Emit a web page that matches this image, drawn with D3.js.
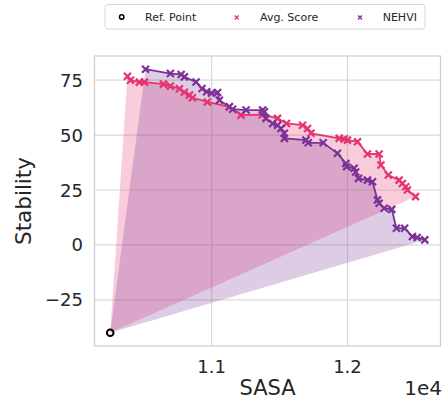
<!DOCTYPE html>
<html>
<head>
<meta charset="utf-8">
<script src="https://cdn.jsdelivr.net/npm/d3@7"></script>
<style>
  body { margin: 0; background: #fff; }
  text { font-family: "DejaVu Sans", sans-serif; fill: #262626; }
</style>
</head>
<body>
<div id="chart"></div>
<script>
// reference point
const refPoint = [10253, -40];

// Avg. Score front (SASA, Stability)
const avgSasa = [10380, 10402, 10468, 10505, 10645, 10696, 10763, 10799, 10836, 10858,
                 10968, 11130, 11216, 11373, 11485, 11551, 11669, 11706, 11731, 11939,
                 11976, 12000, 12074, 12147, 12233, 12246, 12301, 12380, 12404, 12429,
                 12441, 12501];
const avgStab = [76.8, 75.0, 74.1, 74.1, 73.2, 72.3, 71.1, 69.5, 68.2, 67.0,
                 65.1, 62.9, 59.1, 59.3, 57.6, 55.3, 54.5, 53.0, 50.8, 48.5,
                 48.2, 47.7, 47.0, 41.4, 41.4, 36.4, 31.8, 29.5, 28.0, 26.5,
                 25.0, 22.0];

// NEHVI front
const nehviSasa = [10513, 10696, 10775, 10799, 10885, 10929, 10963, 10998, 11044, 11057,
                   11130, 11154, 11253, 11375, 11388, 11400, 11449, 11485, 11510, 11535,
                   11535, 11694, 11711, 11821, 11926, 11988, 11994, 12049, 12060, 12081,
                   12147, 12184, 12221, 12233, 12270, 12326, 12360, 12421, 12478, 12513,
                   12569];
const nehviStab = [80.0, 78.0, 77.6, 76.5, 74.2, 71.2, 69.7, 69.1, 69.4, 65.9,
                   62.9, 61.8, 61.4, 61.4, 60.6, 57.6, 55.3, 54.5, 53.0, 50.8,
                   48.5, 47.7, 46.5, 46.5, 41.7, 37.1, 35.6, 34.9, 33.2, 30.3,
                   29.5, 28.8, 20.5, 19.0, 16.7, 16.2, 7.6, 7.6, 3.8, 3.4,
                   2.3];

const xTicks = [11000, 12000];
const xTickLabels = ["1.1", "1.2"];
const yTicks = [-25, 0, 25, 50, 75];

const width = 443;
const height = 400;
const margin = { top: 56, right: 2.5, bottom: 54, left: 94.5 };

const pink = "#e6336f";
const purple = "#7b3294";

const series = [
  { name: "Avg. Score", color: pink, pts: avgSasa.map((x, i) => [x, avgStab[i]]) },
  { name: "NEHVI", color: purple, pts: nehviSasa.map((x, i) => [x, nehviStab[i]]) }
];

// domains with 5% padding like matplotlib
const allX = [refPoint[0], ...avgSasa, ...nehviSasa];
const allY = [refPoint[1], ...avgStab, ...nehviStab];
function padded(ext) {
  const p = (ext[1] - ext[0]) * 0.05;
  return [ext[0] - p, ext[1] + p];
}

const x = d3.scaleLinear()
  .domain(padded(d3.extent(allX)))
  .range([margin.left, width - margin.right]);
const y = d3.scaleLinear()
  .domain(padded(d3.extent(allY)))
  .range([height - margin.bottom, margin.top]);

const svg = d3.select("#chart")
  .append("svg")
    .attr("width", width)
    .attr("height", height);

// grid
svg.append("g")
  .selectAll("line")
  .data(xTicks).enter()
  .append("line")
    .attr("x1", (d) => x(d)).attr("x2", (d) => x(d))
    .attr("y1", margin.top).attr("y2", height - margin.bottom)
    .attr("stroke", "#d9d9d9").attr("stroke-width", 1.2);

svg.append("g")
  .selectAll("line")
  .data(yTicks).enter()
  .append("line")
    .attr("x1", margin.left).attr("x2", width - margin.right)
    .attr("y1", (d) => y(d)).attr("y2", (d) => y(d))
    .attr("stroke", "#d9d9d9").attr("stroke-width", 1.2);

// hypervolume fills
const area = d3.line().x((d) => x(d[0])).y((d) => y(d[1]));
series.forEach((s) => {
  svg.append("path")
    .attr("d", area([refPoint, ...s.pts]) + "Z")
    .attr("fill", s.color)
    .attr("fill-opacity", 0.25)
    .attr("stroke", "none");
});

// fronts
function xMark(g, cx, cy, r, color, w) {
  g.append("path")
    .attr("d", `M${cx - r},${cy - r}L${cx + r},${cy + r}M${cx - r},${cy + r}L${cx + r},${cy - r}`)
    .attr("stroke", color)
    .attr("stroke-width", w)
    .attr("fill", "none");
}

series.forEach((s) => {
  svg.append("path")
    .attr("d", area(s.pts))
    .attr("fill", "none")
    .attr("stroke", s.color)
    .attr("stroke-width", 1.8);
  const g = svg.append("g");
  s.pts.forEach((p) => xMark(g, x(p[0]), y(p[1]), 3.5, s.color, 2.2));
});

// reference point
svg.append("circle")
  .attr("cx", x(refPoint[0]))
  .attr("cy", y(refPoint[1]))
  .attr("r", 3.3)
  .attr("fill", "none")
  .attr("stroke", "#000")
  .attr("stroke-width", 2);

// frame
svg.append("rect")
  .attr("x", margin.left)
  .attr("y", margin.top)
  .attr("width", width - margin.left - margin.right)
  .attr("height", height - margin.top - margin.bottom)
  .attr("fill", "none")
  .attr("stroke", "#cccccc")
  .attr("stroke-width", 1.2);

// tick labels
svg.append("g")
  .selectAll("text")
  .data(xTicks).enter()
  .append("text")
    .attr("x", (d) => x(d))
    .attr("y", 373)
    .attr("text-anchor", "middle")
    .style("font-size", "18px")
    .text((d, i) => xTickLabels[i]);

svg.append("g")
  .selectAll("text")
  .data(yTicks).enter()
  .append("text")
    .attr("x", 83)
    .attr("y", (d) => y(d) + 6.5)
    .attr("text-anchor", "end")
    .style("font-size", "18px")
    .text((d) => d < 0 ? "\u2212" + Math.abs(d) : d);

// axis labels
svg.append("text")
  .attr("x", (margin.left + width - margin.right) / 2)
  .attr("y", 395)
  .attr("text-anchor", "middle")
  .style("font-size", "21px")
  .text("SASA");

svg.append("text")
  .attr("x", width - 1)
  .attr("y", 395)
  .attr("text-anchor", "end")
  .style("font-size", "20px")
  .text("1e4");

svg.append("text")
  .attr("transform", `translate(31, ${(margin.top + height - margin.bottom) / 2}) rotate(-90)`)
  .attr("text-anchor", "middle")
  .style("font-size", "21.5px")
  .text("Stability");

// legend
const legend = svg.append("g").attr("class", "legend");
legend.append("rect")
  .attr("x", 105).attr("y", 4.5)
  .attr("width", 320).attr("height", 24.5)
  .attr("rx", 3)
  .attr("fill", "#fff")
  .attr("stroke", "#d6d6d6")
  .attr("stroke-width", 1);

legend.append("circle")
  .attr("cx", 121.7).attr("cy", 17)
  .attr("r", 2.2)
  .attr("fill", "none")
  .attr("stroke", "#000")
  .attr("stroke-width", 1.5);
legend.append("text").attr("x", 145).attr("y", 21).style("font-size", "11px").text("Ref. Point");

xMark(legend, 236.7, 17.5, 2, pink, 1.3);
legend.append("text").attr("x", 260).attr("y", 21).style("font-size", "11px").text(series[0].name);

xMark(legend, 360, 17.5, 2, purple, 1.3);
legend.append("text").attr("x", 382.7).attr("y", 21).style("font-size", "11px").text(series[1].name);
</script>
</body>
</html>
